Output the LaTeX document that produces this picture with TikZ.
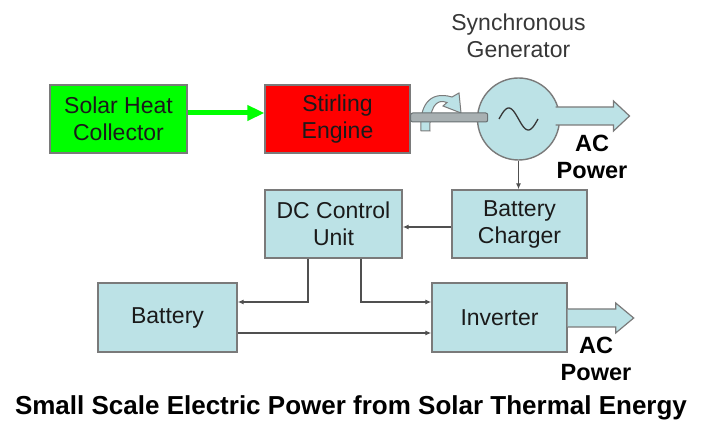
\documentclass[tikz,border=0pt]{standalone}
\usepackage{fontspec}
\setmainfont{Liberation Sans}
\usetikzlibrary{arrows.meta,calc}
\definecolor{boxfill}{RGB}{188,226,230}
\definecolor{boxline}{RGB}{122,122,122}
\definecolor{connline}{RGB}{80,80,80}
\definecolor{txt}{RGB}{26,26,26}
\definecolor{gtxt}{RGB}{55,55,55}
\definecolor{sgreen}{RGB}{0,255,0}
\definecolor{sred}{RGB}{255,0,0}
\definecolor{shaftfill}{RGB}{168,176,178}
\definecolor{shaftline}{RGB}{105,112,114}
\begin{document}
\begin{tikzpicture}[x=1pt,y=-1pt,
  box/.style={draw=boxline, line width=1.4pt, fill=boxfill, text=txt, align=center,
    inner sep=0pt, font=\fontsize{23}{27}\selectfont},
  conn/.style={draw=connline, line width=1.2pt, -{Latex[length=6pt,width=5pt]}},
  hollow/.style={draw=boxline, line width=1.2pt, fill=boxfill, line join=miter},
  aclabel/.style={align=center, font=\bfseries\fontsize{23.5}{27}\selectfont, text=black},
]
\useasboundingbox (0,0) rectangle (702,427);
\fill[white] (0,0) rectangle (702,427);

% blocks
\node[box, fill=sgreen, minimum width=137pt, minimum height=68pt] (solar) at (118.5,119) {Solar Heat\\Collector};
\node[box, fill=sred, minimum width=145pt, minimum height=68pt] (stirling) at (337.5,119) {Stirling\\Engine};
\node[box, minimum width=137pt, minimum height=68pt] (dc) at (333.5,224) {DC Control\\Unit};
\node[box, minimum width=135pt, minimum height=68pt] (charger) at (519.5,224) {Battery\\Charger};
\node[box, minimum width=139pt, minimum height=69pt] (battery) at (167.5,317.5) {Battery};
\node[box, minimum width=135pt, minimum height=69pt] (inverter) at (499.5,317.5) {Inverter};

% generator
\node[draw=boxline, line width=1.4pt, fill=boxfill, circle, minimum size=82pt, inner sep=0pt] (gen) at (518.5,119) {};
\draw[draw=gtxt, line width=1.3pt] plot[domain=0:360, samples=40] ({499+\x/360*39},{119-11*sin(\x)});
\node[align=center, text=gtxt, font=\fontsize{23}{27}\selectfont] (gtitle) at (518.5,35.5) {Synchronous\\Generator};

% AC output arrows
\coordinate (a1) at ($(gen.center)+(37,-3)$);
\path[hollow] (a1) ++(0,-9) -- ++(58,0) -- ++(0,-6) -- ++(16,15) -- ++(-16,15) -- ++(0,-6) -- ++(-58,0);
\coordinate (a2) at ($(inverter.east)+(0,0.5)$);
\path[hollow] (a2) ++(0,-9) -- ++(48,0) -- ++(0,-6) -- ++(18,15) -- ++(-18,15) -- ++(0,-6) -- ++(-48,0);
\node[aclabel] (ac1) at (592,156.5) {AC\\Power};
\node[aclabel] (ac2) at (596,359) {AC\\Power};

% rotation arrow
\path[hollow, line width=1pt] (421,131) .. controls (419,108) and (428,90) .. (452,97)
  -- (459,93) -- (461,113) -- (443,106) -- (447,102.5)
  .. controls (436,98) and (429,108) .. (430,131) -- cycle;

% shaft
\draw[fill=shaftfill, draw=shaftline, line width=1pt, rounded corners=2pt]
  ([yshift=6pt]stirling.east) rectangle ++(77,9);

% heat arrow
\draw[draw=sgreen, line width=5pt, -{Triangle[length=17pt,width=15pt]}]
  ([yshift=6pt]solar.east) -- ([yshift=6pt]stirling.west);

% connectors
\draw[conn] (gen.south) -- (gen.south |- charger.north);
\draw[conn] ([yshift=-3pt]charger.west) -- ([yshift=-3pt]dc.east);
\draw[conn] ([xshift=-25.5pt]dc.south) |- ([yshift=15.5pt]battery.east);
\draw[conn] ([xshift=27.5pt]dc.south) |- ([yshift=15.5pt]inverter.west);
\draw[conn] ([yshift=-15.5pt]battery.east) -- ([yshift=-15.5pt]inverter.west);

% title
\node[font=\bfseries\fontsize{26}{30}\selectfont, text=black] (title) at (351,408) {Small Scale Electric Power from Solar Thermal Energy};
\end{tikzpicture}
\end{document}
